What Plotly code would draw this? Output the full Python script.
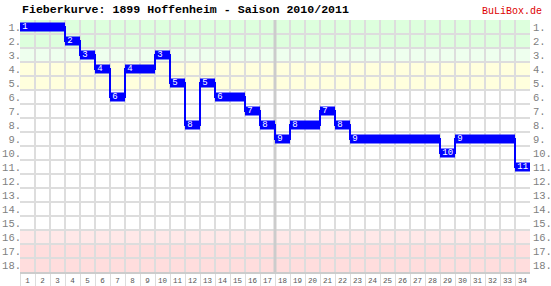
import plotly.graph_objects as go

# ---- data ----
matchdays = list(range(1, 35))
positions = [1, 1, 1, 2, 3, 4, 6, 4, 4, 3, 5, 8, 5, 6, 6, 7, 8, 9, 8, 8,
             7, 8, 9, 9, 9, 9, 9, 9, 10, 9, 9, 9, 9, 11]
rank_labels = [f"{r}." for r in range(1, 19)]
md_labels = [str(m) for m in matchdays]
band_start = [1, 3, 4, 16, 17]
band_end = [2, 3, 5, 16, 18]
band_colors = ["#ddffdd", "#eeffee", "#ffffdd", "#ffe8e8", "#ffdddd"]
title_text = "Fieberkurve: 1899 Hoffenheim - Saison 2010/2011"
brand_text = "BuLiBox.de"

BLUE = "#0000ff"
MONO = "Liberation Mono, DejaVu Sans Mono, monospace"

fig = go.Figure()

# thin step connector
step_x = [m - 0.5 for m in matchdays] + [matchdays[-1] + 0.5]
step_y = positions + [positions[-1]]
fig.add_trace(go.Scatter(x=step_x, y=step_y, mode="lines", line_shape="hv",
                         line=dict(color=BLUE, width=2), hoverinfo="skip",
                         showlegend=False))

# thick bars per matchday
bx, by = [], []
for m, p in zip(matchdays, positions):
    bx += [m - 0.5, m + 0.5, None]
    by += [p, p, None]
fig.add_trace(go.Scatter(x=bx, y=by, mode="lines",
                         line=dict(color=BLUE, width=9), hoverinfo="skip",
                         showlegend=False))

# labels where rank changes
lx, ly, lt = [], [], []
prev = None
for m, p in zip(matchdays, positions):
    if p != prev:
        lx.append(m - 0.5 + 0.15)
        ly.append(p)
        lt.append(str(p))
    prev = p
fig.add_trace(go.Scatter(x=lx, y=ly, text=lt, mode="text",
                         textposition="middle right",
                         textfont=dict(color="white", size=9, family=MONO),
                         hoverinfo="skip", showlegend=False))

# invisible trace for right axis
fig.add_trace(go.Scatter(x=[matchdays[0]], y=[positions[0]], yaxis="y2",
                         mode="markers", marker=dict(opacity=0),
                         hoverinfo="skip", showlegend=False))

# background bands
for s, e, c in zip(band_start, band_end, band_colors):
    fig.add_shape(type="rect", xref="x", yref="y", x0=0.5, x1=34.5,
                  y0=s - 0.5, y1=e + 0.5, fillcolor=c, line_width=0,
                  layer="below")

# mid-season separator
fig.add_shape(type="line", xref="x", yref="y", x0=17.5, x1=17.5,
              y0=0.5, y1=18.5, line=dict(color="#cccccc", width=3),
              layer="between")

tickfont_y = dict(family=MONO, size=10.5, color="#808080")

fig.update_layout(
    width=551, height=286,
    margin=dict(l=20, r=21, t=20, b=14),
    paper_bgcolor="white", plot_bgcolor="white",
    xaxis=dict(range=[0.5, 34.5], tickvals=matchdays, ticktext=md_labels,
               showgrid=False, zeroline=False, ticks="",
               tickfont=dict(family=MONO, size=7.5, color="#555555"),
               showline=True, linecolor="#cccccc", linewidth=2,
               automargin=False,
               minor=dict(tickvals=[m - 0.5 for m in matchdays],
                          showgrid=True, gridcolor="#dddddd", gridwidth=2,
                          ticks="outside", ticklen=14, tickcolor="#dddddd",
                          tickwidth=1)),
    yaxis=dict(range=[18.5, 0.5], tickvals=list(range(1, 19)),
               ticktext=rank_labels, showgrid=False, zeroline=False,
               ticks="", tickfont=tickfont_y, automargin=False,
               ticklabelstandoff=-2,
               minor=dict(tickvals=[r + 0.5 for r in range(1, 18)],
                          showgrid=True, gridcolor="#dddddd", gridwidth=2)),
    yaxis2=dict(range=[18.5, 0.5], tickvals=list(range(1, 19)),
                ticktext=rank_labels, overlaying="y", side="right",
                showgrid=False, zeroline=False, ticks="",
                tickfont=tickfont_y, automargin=False,
                ticklabelstandoff=2),
    annotations=[
        dict(text=f"<b>{title_text}</b>", xref="paper", yref="paper",
             x=0, y=1.042, xanchor="left", yanchor="middle",
             showarrow=False, font=dict(family=MONO, size=11.6, color="black")),
        dict(text=brand_text, xref="paper", yref="paper",
             x=1.0275, y=1.035, xanchor="right", yanchor="middle",
             showarrow=False, font=dict(family=MONO, size=10, color="#dd0000")),
    ],
)

fig.write_html("out.html")
